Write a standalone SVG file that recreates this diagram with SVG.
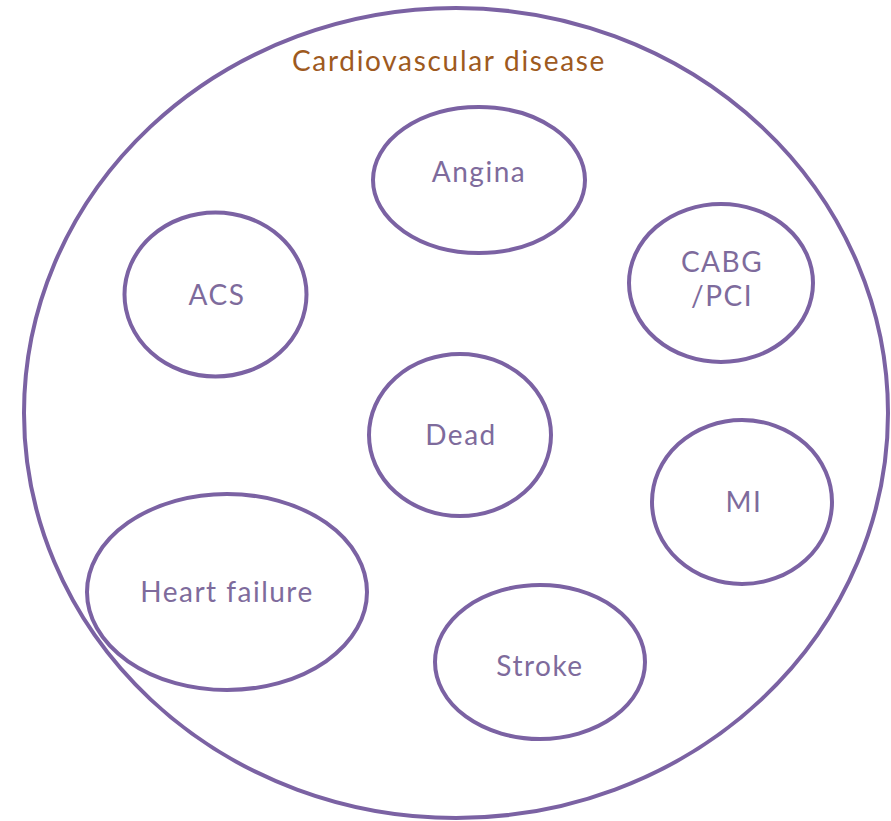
<svg xmlns="http://www.w3.org/2000/svg" width="891" height="821" viewBox="0 0 891 821">
<style>
.c{fill:none;stroke:#7B62A3;stroke-width:4}
.t{font-family:Lato,"Open Sans",sans-serif;font-size:28px;letter-spacing:1.5px;fill:#7E6B9C;text-anchor:middle}
.h{font-family:Lato,"Open Sans",sans-serif;font-size:28px;letter-spacing:1.7px;fill:#9E5A1E;text-anchor:middle}
</style>
<rect width="891" height="821" fill="#fff"/>
<g id="cvd"><ellipse class="c" cx="456" cy="413" rx="432" ry="405"/><text class="h" x="449" y="71">Cardiovascular disease</text></g>
<g id="angina"><ellipse class="c" cx="479" cy="180" rx="106" ry="73"/><text class="t" x="479" y="182">Angina</text></g>
<g id="acs"><ellipse class="c" cx="215.5" cy="294.5" rx="91" ry="82"/><text class="t" x="217" y="305">ACS</text></g>
<g id="cabg"><ellipse class="c" cx="721" cy="283" rx="92" ry="79"/><text class="t" x="722" y="272">CABG</text><text class="t" x="722" y="306">/PCI</text></g>
<g id="dead"><ellipse class="c" cx="460" cy="435" rx="91" ry="81"/><text class="t" x="461" y="445">Dead</text></g>
<g id="mi"><ellipse class="c" cx="742" cy="502" rx="90" ry="82"/><text class="t" x="744" y="512">MI</text></g>
<g id="hf"><ellipse class="c" cx="227" cy="592" rx="140" ry="98"/><text class="t" x="227" y="602">Heart failure</text></g>
<g id="stroke"><ellipse class="c" cx="540" cy="662" rx="105" ry="77"/><text class="t" x="540" y="676">Stroke</text></g>
<g id="connectors"/>
</svg>
